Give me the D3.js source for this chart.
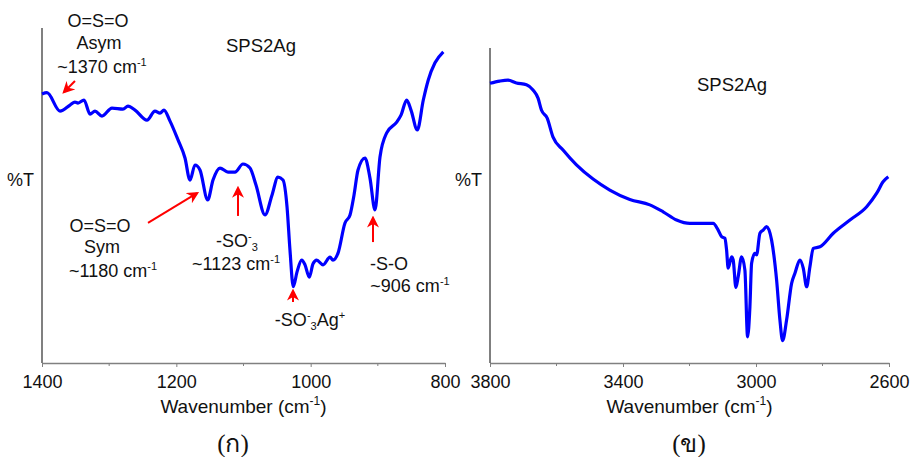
<!DOCTYPE html>
<html>
<head>
<meta charset="utf-8">
<script src="https://cdn.jsdelivr.net/npm/d3@7"></script>
<style>
  body { margin: 0; background: #fff; }
  text { font-family: "Liberation Sans", Arial, sans-serif; fill: #111; }
</style>
</head>
<body>
<script>
/* Spectrum (a): 1400-800 cm-1 */
var waveA = [1400, 1392.6, 1373.2, 1358.3, 1350.9, 1346.4, 1337.5, 1328.5, 1321.1, 1310.7,
  1295.8, 1279.4, 1272.0, 1261.5, 1243.7, 1231.8, 1224.3, 1218.4, 1209.4, 1197.5,
  1187.1, 1179.7, 1172.2, 1164.8, 1153.3, 1145.4, 1135.0, 1123.1, 1112.7, 1100.8,
  1090.3, 1081.4, 1068.0, 1057.6, 1048.7, 1041.2, 1035.2, 1030.8, 1025.9, 1020.3,
  1013.4, 1008.4, 1002.0, 996.5, 991.0, 981.6, 971.2, 966.8, 959.3, 948.9,
  941.4, 935.5, 929.5, 919.1, 911.7, 904.2, 896.8, 886.8, 871.9, 865.5,
  857.0, 850.6, 841.2, 832.3, 824.9, 814.9, 802.5];
var transA = [80.3, 80.7, 75.2, 77.0, 77.9, 77.6, 78.5, 74.3, 75.2, 73.7,
  76.1, 75.8, 76.7, 75.5, 72.5, 75.2, 74.6, 75.5, 72.2, 66.6,
  61.2, 54.6, 59.1, 57.6, 48.7, 54.6, 58.2, 57.0, 57.0, 59.4,
  58.2, 53.1, 44.2, 50.1, 55.5, 54.6, 46.6, 33.7, 22.8, 27.2,
  30.7, 29.3, 25.6, 29.6, 30.7, 29.3, 31.6, 30.7, 32.8, 41.8,
  44.2, 50.1, 57.6, 61.2, 55.2, 45.7, 61.5, 68.7, 71.9, 74.0,
  78.5, 75.5, 69.6, 78.5, 84.5, 89.6, 92.9];

/* Spectrum (b): 3800-2600 cm-1 */
var waveB = [3800, 3770.8, 3745.8, 3720.5, 3690.4, 3670.6, 3655.5, 3645.3, 3628.3, 3610.4,
  3580.3, 3540.0, 3490.0, 3439.7, 3379.5, 3319.3, 3279.3, 3238.9, 3198.9, 3128.8,
  3113.8, 3103.5, 3093.6, 3088.5, 3083.7, 3073.4, 3068.6, 3060.5, 3053.6, 3043.3,
  3033.4, 3025.3, 3018.3, 3013.2, 3003.3, 2998.2, 2988.2, 2978.3, 2968.1, 2953.1,
  2938.0, 2928.1, 2919.9, 2907.9, 2892.9, 2882.9, 2867.9, 2857.9, 2847.7, 2837.8,
  2827.8, 2807.7, 2767.6, 2717.4, 2667.1, 2637.0, 2617.2, 2602.1];
var transB = [88.8, 89.5, 89.8, 88.9, 88.3, 86.7, 84.1, 80.3, 77.8, 71.7,
  67.6, 62.9, 58.4, 54.9, 51.9, 50.2, 48.0, 45.4, 44.3, 44.3,
  42.2, 40.1, 39.6, 35.9, 30.1, 33.7, 32.7, 24.0, 27.4, 33.7,
  29.5, 8.3, 17.9, 31.7, 34.8, 34.3, 41.2, 42.2, 43.3, 39.0,
  26.3, 13.7, 7.1, 13.7, 25.3, 28.5, 32.7, 30.1, 24.2, 30.6,
  36.4, 36.9, 41.2, 45.4, 49.6, 53.9, 57.6, 59.1];

var ticksA = [1400, 1200, 1000, 800];
var minorA = [1300, 1100, 900];
var ticksB = [3800, 3400, 3000, 2600];
var minorB = [3600, 3200, 2800];

var width = 912, height = 457;
var svg = d3.select("body").append("svg")
    .attr("width", width)
    .attr("height", height);

/* scales for each panel */
var xA = d3.scaleLinear().domain([1400, 800]).range([42, 445]),
    yA = d3.scaleLinear().domain([0, 100]).range([363, 28]);
var xB = d3.scaleLinear().domain([3800, 2600]).range([490, 889]),
    yB = d3.scaleLinear().domain([0, 100]).range([363, 48]);

function zip(w, t) { return w.map(function(d, i) { return {w: d, t: t[i]}; }); }

function drawPanel(x, y, waves, trans, ticks, minor, yColor, caption, titlePos) {
    var bottom = y.range()[0];
    var g = svg.append("g");

    // minor ticks, no labels
    g.selectAll(".minor").data(minor).enter().append("line")
        .attr("x1", function(d) { return x(d); }).attr("x2", function(d) { return x(d); })
        .attr("y1", bottom).attr("y2", bottom + 3)
        .attr("stroke", "#808080").attr("stroke-width", 1);

    var xAxis = d3.axisBottom(x).tickValues(ticks).tickSize(4).tickSizeOuter(0)
        .tickFormat(d3.format("d"));
    var ax = g.append("g")
        .attr("transform", "translate(0," + bottom + ")")
        .call(xAxis);
    ax.select(".domain").attr("stroke", "#808080").attr("stroke-width", 1.5);
    ax.selectAll(".tick line").attr("stroke", "#808080");
    ax.selectAll(".tick text")
        .attr("dy", 0).attr("y", 25)
        .style("font-size", "18px")
        .style("font-family", "Liberation Sans, Arial, sans-serif")
        .attr("fill", "#111");

    // y axis: plain line, no ticks
    g.append("line")
        .attr("x1", x.range()[0]).attr("x2", x.range()[0])
        .attr("y1", y.range()[1]).attr("y2", bottom)
        .attr("stroke", yColor).attr("stroke-width", yColor === "#000" ? 1 : 2);

    var line = d3.line()
        .curve(d3.curveMonotoneX)
        .x(function(d) { return x(d.w); })
        .y(function(d) { return y(d.t); });

    g.append("path")
        .datum(zip(waves, trans))
        .attr("fill", "none")
        .attr("stroke", "#0000ff")
        .attr("stroke-width", 3.2)
        .attr("stroke-linejoin", "round")
        .attr("d", line);

    var cx = (x.range()[0] + x.range()[1]) / 2;
    var t = g.append("text")
        .attr("x", cx).attr("y", 413)
        .attr("text-anchor", "middle")
        .style("font-size", "19px")
        .text("Wavenumber (cm");
    t.append("tspan").attr("dy", -8).style("font-size", "12px").text("-1");
    t.append("tspan").attr("dy", 8).text(")");

    g.append("text")
        .attr("x", x.range()[0] - 8).attr("y", 186)
        .attr("text-anchor", "end")
        .style("font-size", "18px")
        .text("%T");

    g.append("text")
        .attr("x", titlePos[0]).attr("y", titlePos[1])
        .attr("text-anchor", "middle")
        .style("font-size", "18.5px")
        .text("SPS2Ag");

    g.append("text")
        .attr("x", caption[1]).attr("y", 452)
        .attr("text-anchor", "middle")
        .style("font-size", "25px")
        .style("font-family", "Liberation Serif, serif")
        .text(caption[0]);
}

drawPanel(xA, yA, waveA, transA, ticksA, minorA, "#808080", ["(ก)", 233], [261, 52]);
drawPanel(xB, yB, waveB, transB, ticksB, minorB, "#000", ["(ข)", 689], [732, 91]);

/* red arrows on panel (a): tail and tip in data units */
var arrows = [
    {from: [1350.9, 84.2], to: [1367.2, 80.9]},
    {from: [1242.2, 41.8], to: [1169.2, 50.7]},
    {from: [1108.2, 43.9], to: [1108.2, 52.2]},
    {from: [1026.3, 18.2], to: [1026.3, 21.5]},
    {from: [907.2, 36.1], to: [907.2, 43.3]}
];

svg.append("defs").append("marker")
    .attr("id", "head")
    .attr("viewBox", "0 0 10 10")
    .attr("refX", 8).attr("refY", 5)
    .attr("markerWidth", 6).attr("markerHeight", 6)
    .attr("markerUnits", "strokeWidth")
    .attr("orient", "auto")
    .append("path")
    .attr("d", "M0,0 L10,5 L0,10 L3,5 Z")
    .attr("fill", "#ff0000");

svg.selectAll(".arrow").data(arrows).enter().append("line")
    .attr("x1", function(d) { return xA(d.from[0]); })
    .attr("y1", function(d) { return yA(d.from[1]); })
    .attr("x2", function(d) { return xA(d.to[0]); })
    .attr("y2", function(d) { return yA(d.to[1]); })
    .attr("stroke", "#ff0000")
    .attr("stroke-width", 2)
    .attr("marker-end", "url(#head)");

/* annotation labels: text parts with an optional baseline shift */
function label(x, y, parts) {
    var t = svg.append("text")
        .attr("x", x).attr("y", y)
        .attr("text-anchor", "middle")
        .style("font-size", "18px");
    var shift = 0;
    parts.forEach(function(p) {
        var s = t.append("tspan").text(p[0]);
        var want = p[1] || 0;
        if (want !== shift) { s.attr("dy", want - shift); shift = want; }
        if (p[1]) s.style("font-size", "11px");
    });
}

label(98, 27, [["O=S=O"]]);
label(99, 49, [["Asym"]]);
label(102, 73, [["~1370 cm"], ["-1", -7]]);

label(100, 232, [["O=S=O"]]);
label(102, 253, [["Sym"]]);
label(113, 277, [["~1180 cm"], ["-1", -7]]);

label(237, 247, [["-SO"], ["-", -7], ["3", 4]]);
label(236, 270, [["~1123 cm"], ["-1", -7]]);

label(310, 326, [["-SO"], ["-", -7], ["3", 4], ["Ag", 0], ["+", -7]]);

label(389, 270, [["-S-O"]]);
label(410, 292, [["~906 cm"], ["-1", -7]]);
</script>
</body>
</html>
